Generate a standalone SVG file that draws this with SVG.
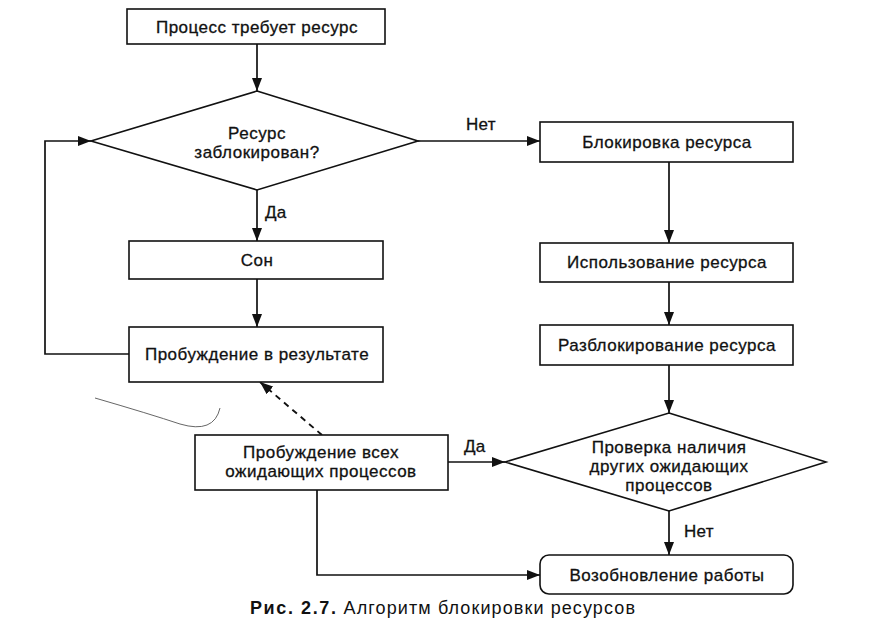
<svg xmlns="http://www.w3.org/2000/svg" width="886" height="641" viewBox="0 0 886 641">
<defs>
<marker id="ah" viewBox="0 0 13 10" refX="13" refY="5" markerWidth="13" markerHeight="10" markerUnits="userSpaceOnUse" orient="auto">
<path d="M0,0 L13,5 L0,10 Z" fill="#111"/>
</marker>
</defs>
<style>
.box{fill:#fff;stroke:#111;stroke-width:1.6}
.t{font-family:"Liberation Sans",Arial,sans-serif;font-size:17px;fill:#111;stroke:#111;stroke-width:0.3;text-anchor:middle;letter-spacing:0.5px}
.lbl{font-family:"Liberation Sans",Arial,sans-serif;font-size:17px;fill:#111;stroke:#111;stroke-width:0.3;letter-spacing:0.3px}
.c{fill:none;stroke:#111;stroke-width:1.7}
.d{fill:none;stroke:#111;stroke-width:1.9;stroke-dasharray:6,5}
</style>
<rect width="886" height="641" fill="#fff"/>
<g id="connectors">
<line class="c" x1="257" y1="44" x2="257" y2="91" marker-end="url(#ah)"/>
<line class="c" x1="418" y1="141" x2="540" y2="141" marker-end="url(#ah)"/>
<line class="c" x1="257" y1="190" x2="257" y2="241" marker-end="url(#ah)"/>
<line class="c" x1="257" y1="279" x2="257" y2="327" marker-end="url(#ah)"/>
<polyline class="c" points="129,354 45,354 45,141 91,141" marker-end="url(#ah)"/>
<line class="c" x1="669" y1="162" x2="669" y2="243" marker-end="url(#ah)"/>
<line class="c" x1="669" y1="282" x2="669" y2="325" marker-end="url(#ah)"/>
<line class="c" x1="669" y1="365" x2="669" y2="413" marker-end="url(#ah)"/>
<line class="c" x1="669" y1="511" x2="669" y2="555" marker-end="url(#ah)"/>
<line class="c" x1="448" y1="462" x2="505" y2="462" marker-end="url(#ah)"/>
<polyline class="c" points="317,490 317,575 540,575" marker-end="url(#ah)"/>
<line class="d" x1="322" y1="435" x2="260" y2="382" marker-end="url(#ah)"/>
<text class="lbl" x="265" y="218">Да</text>
<text class="lbl" x="466" y="130">Нет</text>
<text class="lbl" x="464" y="452">Да</text>
<text class="lbl" x="684" y="537">Нет</text>
</g>
<path d="M95,398 Q150,414 180,424 Q214,434 220,408" fill="none" stroke="#555" stroke-width="0.9"/>
<g id="n1"><rect class="box" x="127" y="9" width="258" height="35"/><text class="t" x="257" y="33">Процесс требует ресурс</text></g>
<g id="n2"><polygon class="box" points="257,91 418,141 257,190 91,141"/><text class="t" x="257" y="139">Ресурс</text><text class="t" x="257" y="158">заблокирован?</text></g>
<g id="n3"><rect class="box" x="129" y="241" width="254" height="38"/><text class="t" x="257" y="266">Сон</text></g>
<g id="n4"><rect class="box" x="129" y="327" width="254" height="55"/><text class="t" x="257" y="360">Пробуждение в результате</text></g>
<g id="n5"><rect class="box" x="540" y="122" width="253" height="40"/><text class="t" x="667" y="148">Блокировка ресурса</text></g>
<g id="n6"><rect class="box" x="540" y="243" width="253" height="39"/><text class="t" x="667" y="268">Использование ресурса</text></g>
<g id="n7"><rect class="box" x="540" y="325" width="253" height="40"/><text class="t" x="667" y="351">Разблокирование ресурса</text></g>
<g id="n8"><polygon class="box" points="669,413 826,462 669,511 505,462"/><text class="t" x="669" y="453">Проверка наличия</text><text class="t" x="669" y="472">других ожидающих</text><text class="t" x="669" y="491">процессов</text></g>
<g id="n9"><rect class="box" x="195" y="435" width="253" height="55"/><text class="t" x="321" y="458">Пробуждение всех</text><text class="t" x="321" y="477">ожидающих процессов</text></g>
<g id="n10"><rect class="box" x="540" y="555" width="253" height="39" rx="9"/><text class="t" x="667" y="581">Возобновление работы</text></g>
<text x="250" y="614" font-family="'Liberation Sans',Arial,sans-serif" font-size="18" fill="#111" letter-spacing="1.1"><tspan font-weight="bold" letter-spacing="1.6">Рис. 2.7.</tspan> Алгоритм блокировки ресурсов</text>
</svg>
